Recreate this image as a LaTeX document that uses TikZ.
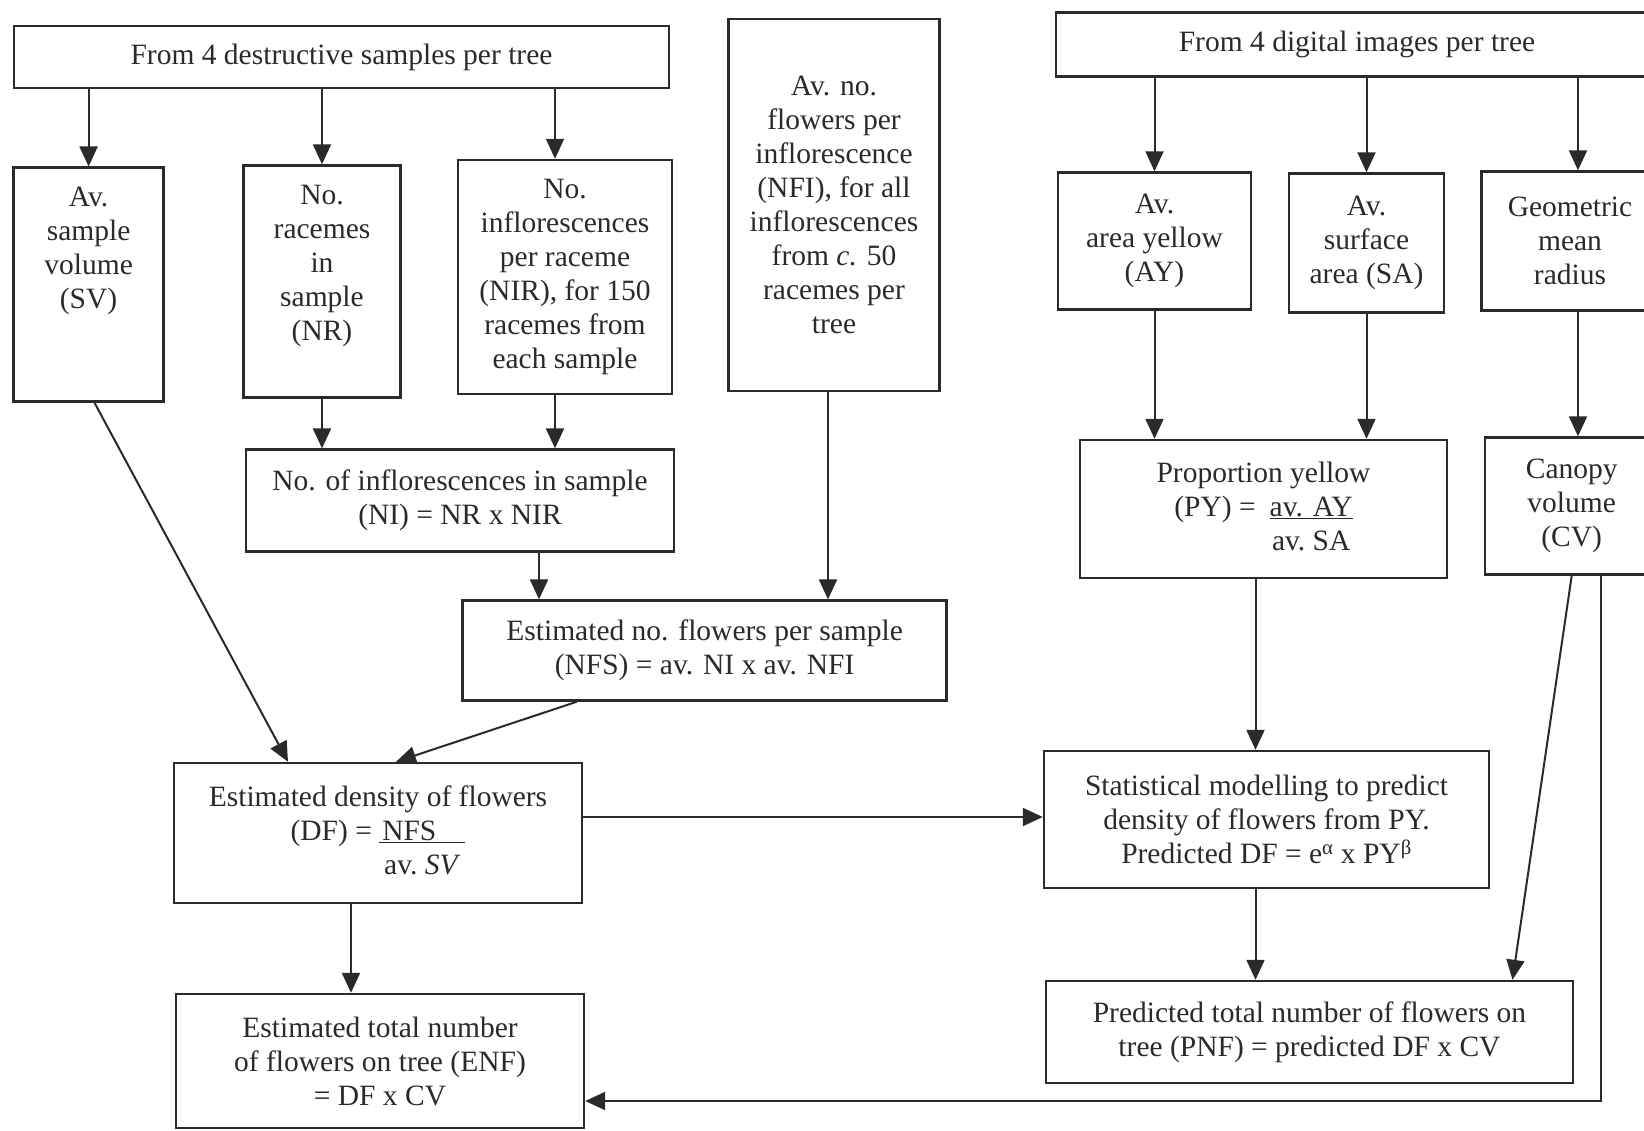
\documentclass[tikz,border=0pt]{standalone}
\usepackage{fontspec}
\setmainfont{Liberation Serif}
\usepackage{tikz}
\usetikzlibrary{positioning, arrows.meta, calc}
\definecolor{scanInk}{HTML}{2A2A2A}

\begin{document}
\begin{tikzpicture}[
  x=1pt, y=-1pt,
  every node/.style={font=\fontsize{29.5}{34}\selectfont},
  databox/.style={
    rectangle, draw=scanInk, line width=2.4pt,
    minimum width=#1, inner sep=2pt,
    text=scanInk, align=center
  },
  flowarrow/.style={
    -{Triangle[length=20pt, width=18pt]}, line width=2pt, scanInk
  },
]
\useasboundingbox (0,0) rectangle (1644,1131);

% === Destructive samples (left half) ===
\node[databox=655pt, minimum height=62pt] (dest) at (341.5,57) {From 4 destructive samples per tree};

\node[databox=150pt, minimum height=234pt] (sv) at (88.6,284.7) {
  Av.\\ sample\\ volume\\ (SV)\\[40pt]\mbox{}
};
\node[databox=157pt, minimum height=232pt] (nr) at (322,281.5) {
  No.\\ racemes\\ in\\ sample\\ (NR)\\[4pt]\mbox{}
};
\node[databox=214pt, minimum height=234pt] (nir) at (565,277) {
  No.\\ inflorescences\\ per raceme\\ (NIR), for 150\\ racemes from\\ each sample
};
\node[databox=211pt, minimum height=372pt] (nfi) at (834,205) {
  Av. no.\\ flowers per\\ inflorescence\\ (NFI), for all\\ inflorescences\\
  from \textit{c.} 50\\ racemes per\\ tree
};

\node[databox=428pt, minimum height=102pt] (ni) at (460,500.6) {
  No. of inflorescences in sample\\ (NI) = NR x NIR
};
\node[databox=484pt, minimum height=100pt] (nfs) at (704.6,650.6) {
  Estimated no. flowers per sample\\ (NFS) = av. NI x av. NFI
};
\node[databox=408pt, minimum height=140pt] (df) at (378,833) {
  Estimated density of flowers\\
  (DF) = \underline{\hspace{3pt}NFS\hspace{29pt}}\\
  \phantom{(DF) = }av.\ \textit{SV}
};
\node[databox=408pt, minimum height=134pt] (enf) at (380,1061) {
  Estimated total number\\ of flowers on tree (ENF)\\ = DF x CV
};

% === Digital images (right half) ===
\node[databox=602pt, minimum height=64pt] (dig) at (1357,44.5) {From 4 digital images per tree};

\node[databox=193pt, minimum height=137pt] (ay) at (1154.5,241) {Av.\\ area yellow\\ (AY)};
\node[databox=155pt, minimum height=139pt] (sa) at (1366.5,243) {Av.\\ surface\\ area (SA)};
\node[databox=177pt, minimum height=139pt] (gmr) at (1570,241) {Geometric\\ mean\\ radius};

\node[databox=367pt, minimum height=138pt] (py) at (1263.5,509) {
  Proportion yellow\\
  (PY) =\hspace{14pt}\underline{av. AY}\\
  \phantom{(PY) =\hspace{14pt}}av.\ SA
};
\node[databox=174pt, minimum height=137pt] (cv) at (1571.7,506) {Canopy\\ volume\\ (CV)};

\node[databox=445pt, minimum height=137pt] (stat) at (1266.5,819.5) {
  Statistical modelling to predict\\
  density of flowers from PY.\\
  Predicted DF = e\textsuperscript{α} x PY\textsuperscript{β}
};
\node[databox=527pt, minimum height=102pt] (pnf) at (1309.5,1032) {
  Predicted total number of flowers on\\ tree (PNF) = predicted DF x CV
};

% === Helper points for off-centre arrows ===
\coordinate (nirTop) at ([xshift=-10pt]nir.north);
\coordinate (niOut) at ([xshift=79pt]ni.south);
\coordinate (dfOut) at ([xshift=-27pt]df.south);
\coordinate (gmrTop) at ([xshift=8pt]gmr.north);
\coordinate (pyOut) at ([xshift=-8pt]py.south);

% === Left arrows ===
\draw[flowarrow] (sv.north |- dest.south) -- (sv.north);
\draw[flowarrow] (nr.north |- dest.south) -- (nr.north);
\draw[flowarrow] (nirTop |- dest.south) -- (nirTop);
\draw[flowarrow] (nr.south) -- (nr.south |- ni.north);
\draw[flowarrow] (nirTop |- nir.south) -- (nirTop |- ni.north);
\draw[flowarrow] (niOut) -- (niOut |- nfs.north);
\draw[flowarrow] ([xshift=-6pt]nfi.south) -- ([xshift=-6pt]nfi.south |- nfs.north);
\draw[flowarrow] ([xshift=6pt]sv.south) -- ([xshift=-90pt]df.north);
\draw[flowarrow] ([xshift=-128pt]nfs.south) -- ([xshift=18pt]df.north);
\draw[flowarrow] (dfOut) -- (dfOut |- enf.north);
\draw[flowarrow] ([yshift=16pt]df.east) -- ([yshift=16pt]df.east -| stat.west);

% === Right arrows ===
\draw[flowarrow] (ay.north |- dig.south) -- (ay.north);
\draw[flowarrow] (sa.north |- dig.south) -- (sa.north);
\draw[flowarrow] (gmrTop |- dig.south) -- (gmrTop);
\draw[flowarrow] (ay.south) -- (ay.south |- py.north);
\draw[flowarrow] (sa.south) -- (sa.south |- py.north);
\draw[flowarrow] (gmrTop |- gmr.south) -- (gmrTop |- cv.north);
\draw[flowarrow] (pyOut) -- (pyOut |- stat.north);
\draw[flowarrow] (pyOut |- stat.south) -- (pyOut |- pnf.north);
\draw[flowarrow] (cv.south) -- ([xshift=203pt]pnf.north);
\draw[flowarrow] ([xshift=29pt]cv.south) |- ([yshift=-40pt]enf.east);

\end{tikzpicture}
\end{document}
